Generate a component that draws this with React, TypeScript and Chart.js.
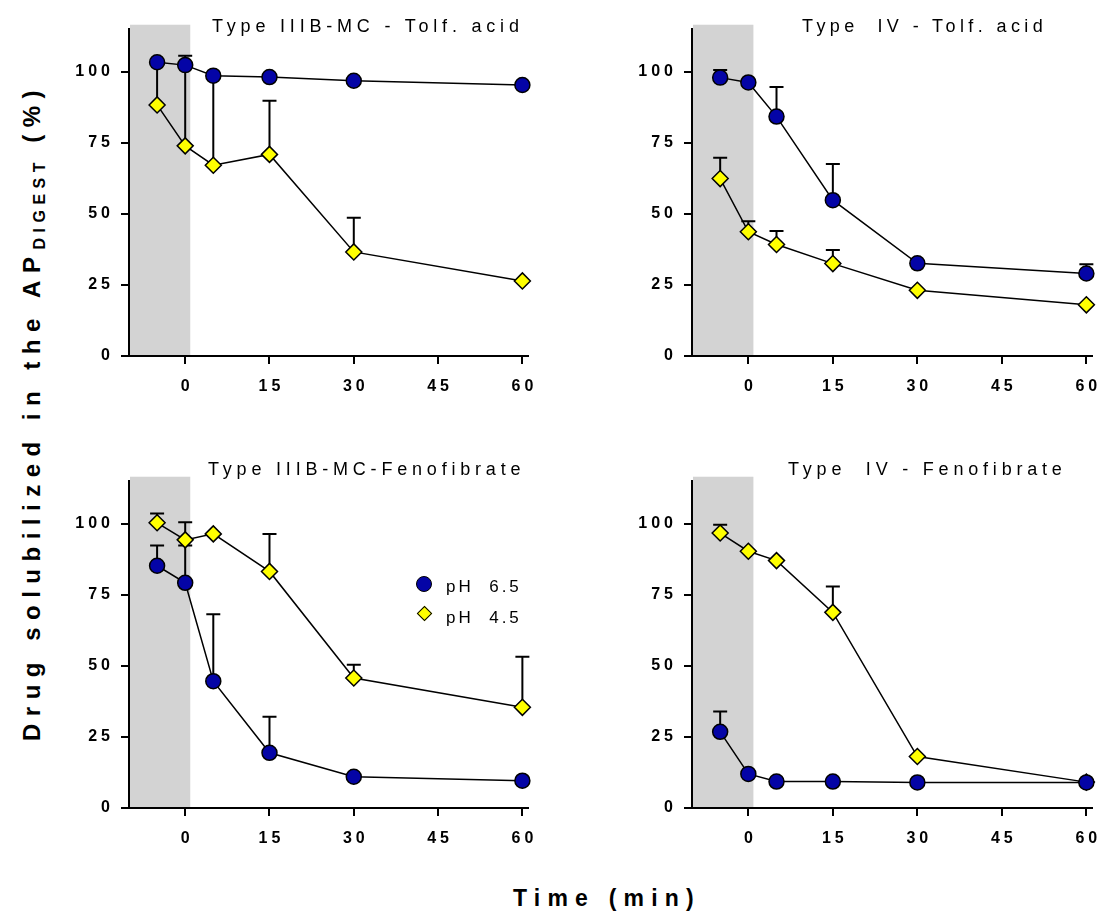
import React, { useEffect, useRef } from 'react';
import { Chart, registerables } from 'chart.js';

Chart.register(...registerables);

const FONT = '"Liberation Sans", Arial, Helvetica, sans-serif';
Chart.defaults.font.family = FONT;

// Sampling times (min); negative time = gastric pre-phase
const timePoints = [-5, 0, 5, 15, 30, 60];
const xTickValues = [0, 15, 30, 45, 60];
const yTickValues = [0, 25, 50, 75, 100];
const xMin = -10;
const xMax = 61;
const yMin = 0;
const yMax = 115;
const shadeStart = -10;
const shadeEnd = 0.9;
const shadeTop = 116.5;

const seriesLabels = ['pH 6.5', 'pH 4.5'];
const panelTitles = [
  'Type IIIB-MC - Tolf. acid',
  'Type  IV - Tolf. acid',
  'Type IIIB-MC-Fenofibrate',
  'Type  IV - Fenofibrate',
];

// Type IIIB-MC, tolfenamic acid
const tolfIIIB_pH65 = [103.3, 102.3, 98.6, 98.1, 96.8, 95.3];
const tolfIIIB_pH65_sd = [0, 0, 0, 0, 0, 0];
const tolfIIIB_pH45 = [88.3, 73.9, 67.1, 70.9, 36.6, 26.4];
const tolfIIIB_pH45_sd = [15, 31.7, 31.5, 18.9, 12, 0];

// Type IV, tolfenamic acid
const tolfIV_pH65 = [97.9, 96.2, 84.2, 54.8, 32.6, 29.0];
const tolfIV_pH65_sd = [2.7, 0, 10.4, 12.7, 0, 3.3];
const tolfIV_pH45 = [62.4, 43.7, 39.2, 32.5, 23.1, 18.0];
const tolfIV_pH45_sd = [7.3, 3.7, 4.8, 4.8, 0, 0];

// Type IIIB-MC, fenofibrate
const fenoIIIB_pH65 = [85.2, 79.2, 44.6, 19.4, 11.0, 9.6];
const fenoIIIB_pH65_sd = [7.1, 13.1, 23.5, 12.7, 0, 0];
const fenoIIIB_pH45 = [100.3, 94.3, 96.4, 83.2, 45.7, 35.4];
const fenoIIIB_pH45_sd = [3.3, 6.2, 0, 13.2, 4.7, 17.8];

// Type IV, fenofibrate
const fenoIV_pH65 = [26.8, 12.0, 9.3, 9.3, 9.0, 9.0];
const fenoIV_pH65_sd = [7.1, 0, 0, 0, 0, 0];
const fenoIV_pH45 = [96.7, 90.3, 87.0, 68.8, 18.1, 9.1];
const fenoIV_pH45_sd = [2.9, 0, 0, 9.1, 0, 0];

const BLUE = '#0404A6';
const YELLOW = '#FFFF00';
const SHADE = '#D3D3D3';
const TICK_SPACING = 4;

const panels = [
  { left: 59, top: 9, width: 489, a: tolfIIIB_pH65, aSd: tolfIIIB_pH65_sd, b: tolfIIIB_pH45, bSd: tolfIIIB_pH45_sd },
  { left: 622, top: 9, width: 490, a: tolfIV_pH65, aSd: tolfIV_pH65_sd, b: tolfIV_pH45, bSd: tolfIV_pH45_sd },
  { left: 59, top: 461, width: 489, a: fenoIIIB_pH65, aSd: fenoIIIB_pH65_sd, b: fenoIIIB_pH45, bSd: fenoIIIB_pH45_sd },
  { left: 622, top: 461, width: 490, a: fenoIV_pH65, aSd: fenoIV_pH65_sd, b: fenoIV_pH45, bSd: fenoIV_pH45_sd },
];

const titlePositions = [
  { left: 212, top: 17.4 },
  { left: 802, top: 17.4 },
  { left: 208, top: 459.5 },
  { left: 788, top: 459.5 },
];

// Grey band for the pre-digestion window plus upward SD bars
const bandAndErrorBars = {
  id: 'bandAndErrorBars',
  beforeDatasetsDraw(chart: any) {
    const { ctx, chartArea, scales } = chart;
    const x = scales.x;
    const y = scales.y;
    ctx.save();
    const x0 = Math.max(x.getPixelForValue(shadeStart), chartArea.left + 1);
    const x1 = x.getPixelForValue(shadeEnd);
    const yTop = y.getPixelForValue(shadeTop);
    const yBot = y.getPixelForValue(0) - 1;
    ctx.fillStyle = SHADE;
    ctx.fillRect(x0, yTop, x1 - x0, yBot - yTop);

    ctx.strokeStyle = '#000';
    ctx.lineWidth = 2;
    const capHalf = 7;
    chart.data.datasets.forEach((ds: any) => {
      const errs: number[] = ds.errors || [];
      ds.data.forEach((pt: any, j: number) => {
        const e = errs[j];
        if (!e) return;
        const px = x.getPixelForValue(pt.x);
        const p0 = y.getPixelForValue(pt.y);
        const p1 = y.getPixelForValue(pt.y + e);
        ctx.beginPath();
        ctx.moveTo(px, p0);
        ctx.lineTo(px, p1);
        ctx.moveTo(px - capHalf, p1);
        ctx.lineTo(px + capHalf, p1);
        ctx.stroke();
      });
    });
    ctx.restore();
  },
};

// Wide letter spacing for the tick labels
const spacedTicks = {
  id: 'spacedTicks',
  beforeDraw(chart: any) {
    (chart.ctx as any).letterSpacing = TICK_SPACING + 'px';
  },
};

function makeAxis(kind: 'x' | 'y') {
  const isX = kind === 'x';
  return {
    type: 'linear',
    min: isX ? xMin : yMin,
    max: isX ? xMax : yMax,
    afterBuildTicks: (axis: any) => {
      axis.ticks = (isX ? xTickValues : yTickValues).map((v) => ({ value: v }));
    },
    afterFit: (axis: any) => {
      if (isX) axis.height = 45;
      else axis.width = 70;
    },
    grid: {
      drawOnChartArea: false,
      drawTicks: true,
      tickLength: 8,
      color: '#000',
      tickColor: '#000',
      lineWidth: 2,
      tickWidth: 2,
    },
    border: { display: true, color: '#000', width: 2 },
    ticks: {
      color: '#000',
      font: { size: 16, weight: 'bold', family: FONT },
      padding: isX ? 13 : 7,
      labelOffset: isX ? TICK_SPACING / 2 : 0,
      autoSkip: false,
      maxRotation: 0,
      minRotation: 0,
    },
  };
}

function Panel({ cfg }: { cfg: (typeof panels)[number] }) {
  const ref = useRef<HTMLCanvasElement>(null);
  useEffect(() => {
    const chart = new Chart(ref.current as HTMLCanvasElement, {
      type: 'line',
      data: {
        datasets: [
          {
            label: seriesLabels[0],
            data: timePoints.map((t, i) => ({ x: t, y: cfg.a[i] })),
            errors: cfg.aSd,
            borderColor: '#000',
            borderWidth: 1.5,
            pointStyle: 'circle',
            pointRadius: 7.5,
            pointHoverRadius: 7.5,
            pointBackgroundColor: BLUE,
            pointBorderColor: '#000',
            pointBorderWidth: 1.5,
            tension: 0,
            fill: false,
            clip: false,
          } as any,
          {
            label: seriesLabels[1],
            data: timePoints.map((t, i) => ({ x: t, y: cfg.b[i] })),
            errors: cfg.bSd,
            borderColor: '#000',
            borderWidth: 1.5,
            pointStyle: 'rectRot',
            pointRadius: 8,
            pointHoverRadius: 8,
            pointBackgroundColor: YELLOW,
            pointBorderColor: '#000',
            pointBorderWidth: 1.5,
            tension: 0,
            fill: false,
            clip: false,
          } as any,
        ],
      },
      options: {
        responsive: false,
        maintainAspectRatio: false,
        animation: false,
        events: [],
        layout: { padding: { top: 20, right: 20, left: 0, bottom: 0 } },
        plugins: {
          legend: { display: false },
          tooltip: { enabled: false },
          title: { display: false },
        },
        scales: {
          x: makeAxis('x') as any,
          y: makeAxis('y') as any,
        },
      },
      plugins: [bandAndErrorBars, spacedTicks],
    });
    return () => chart.destroy();
  }, [cfg]);
  return (
    <canvas
      ref={ref}
      width={cfg.width}
      height={392}
      style={{ position: 'absolute', left: cfg.left, top: cfg.top }}
    />
  );
}

const textBase: React.CSSProperties = {
  position: 'absolute',
  fontFamily: FONT,
  color: '#000',
  whiteSpace: 'pre',
  margin: 0,
};

export default function App() {
  return (
    <div
      style={{
        position: 'absolute',
        left: 0,
        top: 0,
        width: 1099,
        height: 920,
        overflow: 'hidden',
        background: '#fff',
      }}
    >
      {panels.map((p, i) => (
        <Panel key={i} cfg={p} />
      ))}

      {panelTitles.map((t, i) => (
        <div
          key={t}
          style={{
            ...textBase,
            left: titlePositions[i].left,
            top: titlePositions[i].top,
            fontSize: 18,
            lineHeight: '18px',
            letterSpacing: i === 1 ? '4.4px' : '4.8px',
          }}
        >
          {t}
        </div>
      ))}

      {/* legend inside the lower-left panel */}
      <div
        style={{
          position: 'absolute',
          left: 416,
          top: 576,
          width: 16,
          height: 16,
          boxSizing: 'border-box',
          borderRadius: '50%',
          background: BLUE,
          border: '1.5px solid #000',
        }}
      />
      <div
        style={{
          position: 'absolute',
          left: 418.5,
          top: 607.5,
          width: 11,
          height: 11,
          boxSizing: 'border-box',
          background: YELLOW,
          border: '1.5px solid #000',
          transform: 'rotate(45deg)',
        }}
      />
      <div style={{ ...textBase, left: 446, top: 578.3, fontSize: 17, lineHeight: '17px', letterSpacing: '3px' }}>
        {'pH  6.5'}
      </div>
      <div style={{ ...textBase, left: 446, top: 608.9, fontSize: 17, lineHeight: '17px', letterSpacing: '3px' }}>
        {'pH  4.5'}
      </div>

      {/* shared y-axis title */}
      <div
        style={{
          ...textBase,
          left: 32 - 400,
          top: 412 - 12,
          width: 800,
          height: 24,
          textAlign: 'center',
          fontSize: 24,
          lineHeight: '24px',
          fontWeight: 'bold',
          letterSpacing: '7.5px',
          transform: 'rotate(-90deg)',
        }}
      >
        Drug solubilized in the AP
        <span style={{ fontSize: 16, letterSpacing: '5.5px', verticalAlign: '-5px' }}>DIGEST</span>
        {' (%)'}
      </div>

      {/* shared x-axis title */}
      <div
        style={{
          ...textBase,
          left: 513,
          top: 887,
          fontSize: 23,
          lineHeight: '23px',
          fontWeight: 'bold',
          letterSpacing: '7.2px',
        }}
      >
        Time (min)
      </div>
    </div>
  );
}
